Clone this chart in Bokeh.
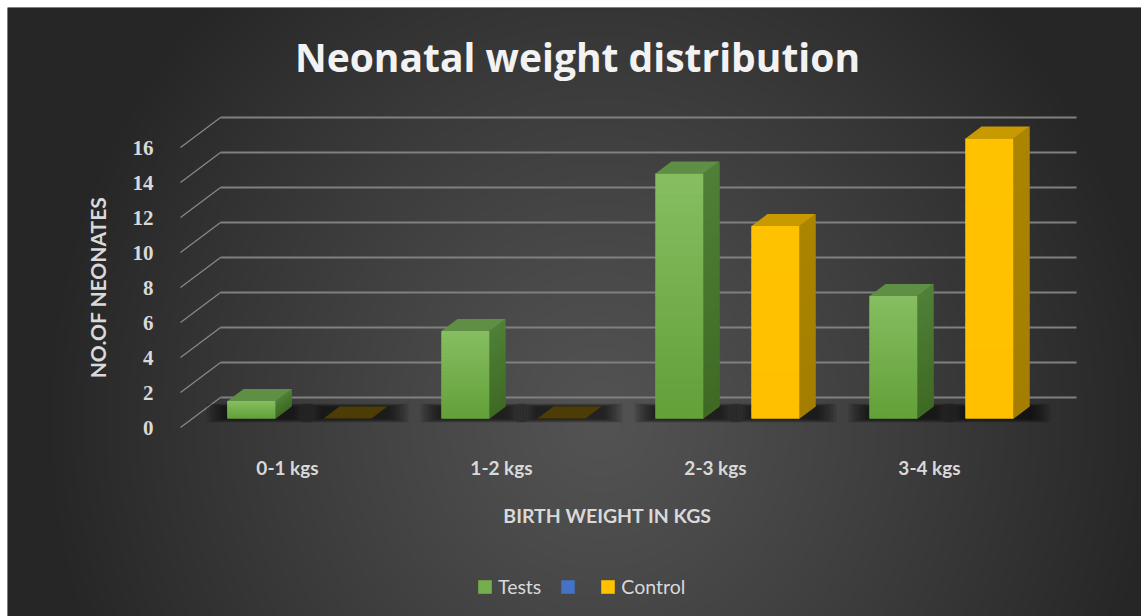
import numpy as np
from bokeh.plotting import figure
from bokeh.models import Legend, LegendItem, Label, Range1d
from bokeh.embed import file_html
from bokeh.resources import INLINE
from bokeh.core.properties import value

# ---- data ----
categories = ["0-1 kgs", "1-2 kgs", "2-3 kgs", "3-4 kgs"]
tests = [1, 5, 14, 7]
control = [0, 0, 11, 16]
y_ticks = [0, 2, 4, 6, 8, 10, 12, 14, 16]

# ---- canvas / projection settings ----
W, H = 1141, 616
PAD_L, PAD_T = 7, 7
PX_PER_CAT = 214.0
PX_PER_VAL = 17.5
X0_PX = 287 - PAD_L          # category 0 on the front plane
Y0_PX = 427 - PAD_T          # value 0 on the front plane
FW, FH = W - PAD_L, H - PAD_T
x_start = -X0_PX / PX_PER_CAT
x_end = x_start + FW / PX_PER_CAT
y_end = Y0_PX / PX_PER_VAL
y_start = y_end - FH / PX_PER_VAL

DX = 40 / PX_PER_CAT         # full floor depth, horizontal part
DY = 30 / PX_PER_VAL         # full floor depth, vertical part
D_FRONT, D_BACK = 0.3, 0.7   # bar slab within the floor depth
BW = 48 / PX_PER_CAT         # bar width
px_x = 1 / PX_PER_CAT
px_y = 1 / PX_PER_VAL

TEXT = "#d9d9d9"

p = figure(width=W, height=H, x_range=Range1d(x_start, x_end), y_range=Range1d(y_start, y_end),
           x_axis_type=None, y_axis_type=None, toolbar_location=None, output_backend="svg",
           min_border_left=PAD_L, min_border_top=PAD_T, min_border_right=0, min_border_bottom=0,
           border_fill_color="white", background_fill_color="#3a3a3a", outline_line_color=None)
p.grid.visible = False

# ---- radial background shading ----
cols = PAD_L + np.arange(FW) + 0.5
rows = H - np.arange(FH) - 0.5
XX, YY = np.meshgrid(cols, rows)
r = np.sqrt(((XX - 600) / 560) ** 2 + ((YY - 420) / 600) ** 2)
g = (83 - 45 * np.clip(r, 0, 1) ** 1.15).astype(np.uint8)
img = np.empty((FH, FW), dtype=np.uint32)
view = img.view(dtype=np.uint8).reshape((FH, FW, 4))
view[..., 0] = g
view[..., 1] = g
view[..., 2] = g
view[..., 3] = 255
p.image_rgba(image=[img], x=x_start, y=y_start, dw=x_end - x_start, dh=y_end - y_start)

# ---- walls: gridlines on the back wall plus side-wall diagonals ----
yt = np.array(y_ticks, dtype=float)
n_cat = len(categories)
left_edge, right_edge = -0.5, n_cat - 0.5
p.segment(x0=[left_edge + DX] * len(yt), y0=yt + DY, x1=[right_edge + DX] * len(yt), y1=yt + DY,
          line_color="#808080", line_width=2.2)
p.segment(x0=[left_edge] * len(yt), y0=yt, x1=[left_edge + DX] * len(yt), y1=yt + DY,
          line_color="#8a8a8a", line_width=1.2)


def bar_parts(vals, offset):
    v = np.array(vals, dtype=float)
    xc = np.arange(len(v)) + offset
    left = xc - BW / 2 + D_FRONT * DX
    right = left + BW
    bottom = np.full_like(v, D_FRONT * DY)
    top = v + bottom
    ddx = (D_BACK - D_FRONT) * DX
    ddy = (D_BACK - D_FRONT) * DY
    return v, left, right, bottom, top, ddx, ddy


def draw_shadows(vals, offset):
    v, left, right, bottom, top, ddx, ddy = bar_parts(vals, offset)
    for k in range(7):
        p.quad(left=left - (3 + 3 * k) * px_x, right=right + ddx + (3 + 3 * k) * px_x,
               bottom=bottom - (0.5 + 0.6 * k) * px_y, top=bottom + ddy + (0.5 * k) * px_y,
               fill_color="black", fill_alpha=0.11, line_color=None)


def lerp(c0, c1, t):
    a = np.array([int(c0[i:i + 2], 16) for i in (1, 3, 5)], dtype=float)
    b = np.array([int(c1[i:i + 2], 16) for i in (1, 3, 5)], dtype=float)
    c = a + (b - a) * t
    return "#%02x%02x%02x" % tuple(int(round(x)) for x in c)


def draw_bars(vals, offset, front_lo, front_hi, side_lo, side_hi, top_col, flat_col, n=24):
    v, left, right, bottom, top, ddx, ddy = bar_parts(vals, offset)
    # solid faces first, then the shading bands on top of them
    main = p.quad(left=left, right=right, bottom=bottom, top=top,
                  fill_color=lerp(front_lo, front_hi, 0.5), line_color=None)
    p.patches(xs=[[ri, ri, ri + ddx, ri + ddx] for ri in right],
              ys=[[b, t, t + ddy, b + ddy] for b, t in zip(bottom, top)],
              fill_color=lerp(side_lo, side_hi, 0.5), line_color=None)
    for k in range(n):
        t0, t1 = k / n, (k + 1) / n
        col = lerp(front_lo, front_hi, (t0 + t1) / 2)
        scol = lerp(side_lo, side_hi, (t0 + t1) / 2)
        b0 = bottom + (top - bottom) * t0
        b1 = np.minimum(bottom + (top - bottom) * t1 + (0 if k == n - 1 else 1.2 * px_y), top)
        p.quad(left=left, right=right, bottom=b0, top=b1, fill_color=col, line_color=None)
        p.patches(xs=[[ri, ri, ri + ddx, ri + ddx] for ri in right],
                  ys=[[bb0, bb1, bb1 + ddy, bb0 + ddy] for bb0, bb1 in zip(b0, b1)],
                  fill_color=scol, line_color=None)
    xs_top = [[l, rr_, rr_ + ddx, l + ddx] for l, rr_ in zip(left, right)]
    ys_top = [[t, t, t + ddy, t + ddy] for t in top]
    top_colors = [flat_col if vi == 0 else top_col for vi in v]
    p.patches(xs=xs_top, ys=ys_top, fill_color=top_colors, line_color=None)
    return main


draw_shadows(tests, -BW)
draw_shadows(control, BW)
r_tests = draw_bars(tests, -BW, "#62a038", "#86be61", "#3e6a24", "#508038", "#5f8f45", "#34501f")
r_ctrl = draw_bars(control, BW, "#ffc000", "#ffc200", "#a47e00", "#ab8400", "#c89a00", "#4d3c06")

# third series of the cluster carries no values; it only keeps its slot and legend key
blank_left = np.arange(n_cat) - BW / 2 + D_FRONT * DX
r_blank = p.quad(left=blank_left, right=blank_left + BW, bottom=[D_FRONT * DY] * n_cat,
                 top=[D_FRONT * DY] * n_cat, fill_color="#4472c4", line_color=None)

# ---- tick labels ----
p.text(x=[left_edge - 27 * px_x] * len(y_ticks), y=y_ticks, text=[str(t) for t in y_ticks],
       text_align="right", text_baseline="middle", text_color=TEXT,
       text_font=value("Liberation Serif"), text_font_style="bold", text_font_size="21px")
p.text(x=list(range(n_cat)), y=[-40 * px_y] * n_cat, text=categories,
       text_align="center", text_baseline="middle", text_color=TEXT,
       text_font=value("Lato"), text_font_style="bold", text_font_size="19px")

# ---- titles ----
p.add_layout(Label(x=570, y=FH - 49, x_units="screen", y_units="screen", text="Neonatal weight distribution",
                   text_align="center", text_baseline="middle", text_color="#f2f2f2",
                   text_font="Open Sans", text_font_style="bold", text_font_size="39px"))
p.add_layout(Label(x=90, y=H - 287, x_units="screen", y_units="screen", text="NO.OF NEONATES",
                   angle=np.pi / 2, text_align="center", text_baseline="middle", text_color=TEXT,
                   text_font="Lato", text_font_style="bold", text_font_size="21px"))
p.add_layout(Label(x=600, y=H - 515, x_units="screen", y_units="screen", text="BIRTH WEIGHT IN KGS",
                   text_align="center", text_baseline="middle", text_color=TEXT,
                   text_font="Lato", text_font_style="bold", text_font_size="19.5px"))

# ---- legend ----
legend = Legend(items=[LegendItem(label="Tests", renderers=[r_tests]),
                       LegendItem(label="", renderers=[r_blank]),
                       LegendItem(label="Control", renderers=[r_ctrl])],
                orientation="horizontal", location=(469, 18),
                glyph_width=17, glyph_height=17, label_standoff=5, spacing=18, label_width=0,
                padding=0, margin=0, background_fill_alpha=0, border_line_color=None,
                label_text_color=TEXT, label_text_font="Lato", label_text_font_size="19.5px")
p.add_layout(legend, "center")

open("out.html", "w").write(file_html(p, INLINE))
